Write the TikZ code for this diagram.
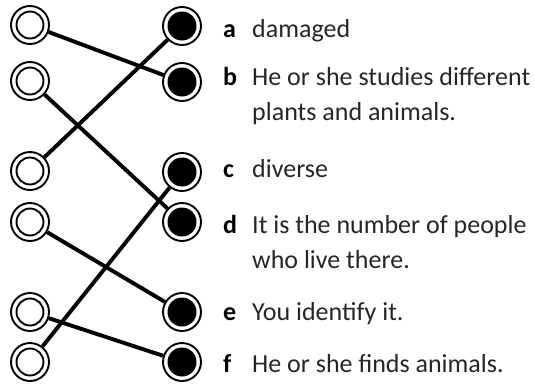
\documentclass[tikz,border=0pt]{standalone}
\usepackage{fontspec}
\setmainfont{Carlito}
\begin{document}
\begin{tikzpicture}[x=1pt,y=-1pt,
  ring/.style={circle,draw=black,line width=1.9pt,minimum size=38pt,inner sep=0pt},
  openpt/.style={ring,path picture={\draw[line width=1.9pt] (path picture bounding box.center) circle (13.5pt);}},
  fullpt/.style={ring,path picture={\fill (path picture bounding box.center) circle (14.5pt);}},
  link/.style={line width=3.9pt,black},
  letter/.style={anchor=base west,inner sep=0pt,font=\fontsize{26}{35}\selectfont\bfseries},
  answer/.style={anchor=base west,inner sep=0pt,align=left,text=black!85,font=\fontsize{26}{35}\selectfont}]
\useasboundingbox (0,0) rectangle (535,383);
% left points
\node[openpt] (L1) at (30,25) {};
\node[openpt] (L2) at (30,81) {};
\node[openpt] (L3) at (30,171) {};
\node[openpt] (L4) at (30,222) {};
\node[openpt] (L5) at (30,312) {};
\node[openpt] (L6) at (30,362) {};
% right points
\node[fullpt] (Ra) at (182,26) {};
\node[fullpt] (Rb) at (182,82) {};
\node[fullpt] (Rc) at (182,172) {};
\node[fullpt] (Rd) at (182,222) {};
\node[fullpt] (Re) at (182,312) {};
\node[fullpt] (Rf) at (182,362) {};
% connectors
\draw[link] (L1) -- (Rb);
\draw[link] (L2) -- (Rd);
\draw[link] (L3) -- (Ra);
\draw[link] (L4) -- (Re);
\draw[link] (L5) -- (Rf);
\draw[link] (L6) -- (Rc);
% labels (multi-line nodes: base = baseline of last line)
\node[letter] (la) at (223,37) {a};
\node[answer] (ta) at (252,37) {damaged};
\node[letter] (lb) at (223,85) {b};
\node[answer] (tb) at (252,120) {He or she studies different\\plants and animals.};
\node[letter] (lc) at (223,177) {c};
\node[answer] (tc) at (252,177) {diverse};
\node[letter] (ld) at (223,233) {d};
\node[answer] (td) at (252,268) {It is the number of people\\who live there.};
\node[letter] (le) at (223,320) {e};
\node[answer] (te) at (252,320) {You identify it.};
\node[letter] (lf) at (223,372) {f};
\node[answer] (tf) at (252,372) {He or she finds animals.};
\end{tikzpicture}
\end{document}
